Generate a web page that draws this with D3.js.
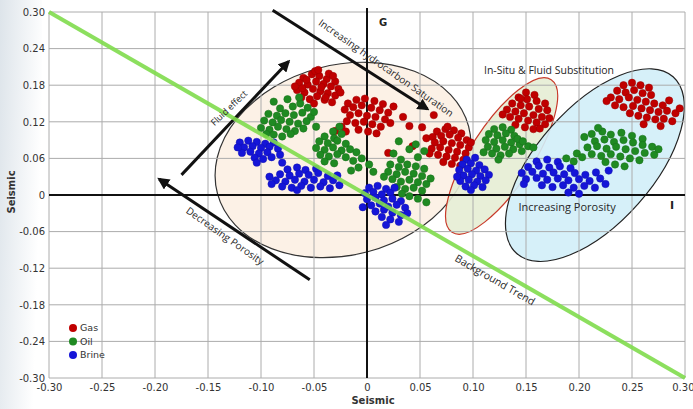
<!DOCTYPE html>
<html lang="en">
<head>
<meta charset="UTF-8">
<title>Seismic crossplot</title>
<script src="https://d3js.org/d3.v7.min.js"></script>
<style>
  body { margin: 0; background: #fff; }
  svg text { font-family: "DejaVu Sans", sans-serif; }
  .grid line { stroke: #acacac; stroke-width: 1; }
  .axis path, .axis line { display: none; }
  .axis text { font-size: 10px; fill: #333; font-family: "DejaVu Sans", sans-serif; }
  .note { font-family: "Open Sans", sans-serif; fill: #262626; }
</style>
</head>
<body>
<div id="chart"></div>
<script>
const xTicks = [-0.30, -0.25, -0.20, -0.15, -0.10, -0.05, 0, 0.05, 0.10, 0.15, 0.20, 0.25, 0.30];
const yTicks = [-0.30, -0.24, -0.18, -0.12, -0.06, 0, 0.06, 0.12, 0.18, 0.24, 0.30];

const gasPoints = [
  // cluster near (-0.05, 0.18)
  [-0.060,0.192],[-0.052,0.198],[-0.045,0.195],[-0.038,0.190],[-0.030,0.186],[-0.064,0.184],[-0.056,0.181],
  [-0.048,0.186],[-0.041,0.182],[-0.034,0.178],[-0.027,0.174],[-0.066,0.172],[-0.059,0.168],[-0.051,0.174],
  [-0.044,0.170],[-0.037,0.167],[-0.030,0.163],[-0.062,0.160],[-0.054,0.157],[-0.047,0.162],[-0.040,0.156],
  [-0.033,0.152],[-0.049,0.203],[-0.036,0.199],[-0.068,0.178],[-0.043,0.177],[-0.057,0.189],[-0.025,0.168],
  [-0.050,0.150],[-0.039,0.160],[-0.046,0.205],[-0.061,0.175],[-0.032,0.195],
  // cluster near (0.00, 0.13)
  [-0.018,0.150],[-0.010,0.156],[-0.002,0.158],[0.007,0.154],[0.015,0.149],[-0.021,0.140],[-0.013,0.144],
  [-0.005,0.147],[0.004,0.143],[0.012,0.139],[0.020,0.135],[-0.016,0.131],[-0.008,0.134],[0.000,0.130],
  [0.008,0.128],[0.017,0.124],[-0.019,0.121],[-0.011,0.118],[-0.003,0.120],[0.005,0.116],[0.013,0.112],
  [-0.008,0.107],[0.001,0.104],[0.009,0.101],[0.022,0.118],[-0.024,0.112],[-0.030,0.105],[-0.020,0.104],
  [0.025,0.145],[0.034,0.128],
  [0.040,0.113],[0.052,0.111],[0.063,0.131],[0.020,0.069],[0.056,0.093],[0.043,0.080],
  // cluster near (0.08, 0.08)
  [0.066,0.104],[0.074,0.108],[0.082,0.106],[0.089,0.101],[0.062,0.095],[0.070,0.097],[0.078,0.099],
  [0.086,0.094],[0.094,0.090],[0.064,0.086],[0.072,0.088],[0.080,0.085],[0.088,0.082],[0.096,0.078],
  [0.061,0.076],[0.069,0.078],[0.077,0.074],[0.085,0.071],[0.093,0.068],[0.067,0.066],[0.075,0.063],
  [0.083,0.061],[0.091,0.058],[0.072,0.054],[0.080,0.051],[0.088,0.048],[0.059,0.068],[0.098,0.086],[0.076,0.112],
  // cluster near (0.15, 0.14)
  [0.150,0.168],[0.158,0.164],[0.143,0.160],[0.151,0.157],[0.160,0.154],[0.168,0.150],[0.137,0.150],
  [0.145,0.147],[0.153,0.145],[0.162,0.141],[0.170,0.139],[0.132,0.140],[0.140,0.137],[0.148,0.134],
  [0.157,0.131],[0.165,0.128],[0.135,0.128],[0.143,0.125],[0.152,0.122],[0.160,0.119],[0.168,0.116],
  [0.140,0.115],[0.149,0.111],[0.157,0.108],[0.128,0.132],[0.172,0.126],[0.145,0.158],[0.163,0.109],
  // cluster near (0.26, 0.15)
  [0.242,0.180],[0.250,0.184],[0.258,0.180],[0.266,0.176],[0.236,0.171],[0.244,0.168],[0.252,0.172],
  [0.260,0.167],[0.268,0.164],[0.230,0.160],[0.238,0.157],[0.247,0.160],[0.255,0.156],[0.263,0.153],
  [0.271,0.150],[0.279,0.147],[0.234,0.147],[0.242,0.144],[0.251,0.146],[0.259,0.142],[0.267,0.139],
  [0.275,0.136],[0.283,0.138],[0.291,0.134],[0.248,0.134],[0.256,0.130],[0.264,0.127],[0.272,0.124],
  [0.280,0.125],[0.288,0.121],[0.261,0.116],[0.277,0.113],[0.226,0.154],[0.295,0.142],[0.285,0.155]
];

const oilPoints = [
  [-0.088,0.153],[-0.075,0.157],[-0.063,0.150],[-0.070,0.145],[-0.082,0.142],[-0.056,0.143],[-0.093,0.133],
  [-0.085,0.130],[-0.077,0.134],[-0.069,0.131],[-0.061,0.135],[-0.053,0.128],[-0.097,0.122],[-0.089,0.119],
  [-0.081,0.123],[-0.073,0.120],[-0.065,0.117],[-0.057,0.121],[-0.100,0.110],[-0.092,0.107],[-0.084,0.112],
  [-0.076,0.108],[-0.068,0.105],[-0.060,0.109],[-0.088,0.099],[-0.080,0.096],[-0.072,0.100],[-0.095,0.100],
  [-0.050,0.136],[-0.064,0.160],[-0.048,0.112],
  [-0.032,0.104],[-0.024,0.100],[-0.040,0.096],[-0.031,0.093],[-0.045,0.088],[-0.037,0.085],[-0.028,0.089],
  [-0.020,0.084],[-0.048,0.077],[-0.040,0.074],[-0.032,0.078],[-0.024,0.073],[-0.044,0.066],[-0.036,0.063],
  [-0.028,0.067],[-0.020,0.062],[-0.040,0.055],[-0.031,0.052],[-0.016,0.075],[-0.010,0.070],[-0.013,0.056],
  [-0.005,0.060],[-0.008,0.045],[0.002,0.050],[-0.015,0.040],[0.006,0.038],[-0.026,0.112],
  [0.030,0.088],[0.046,0.083],[0.040,0.075],[0.054,0.072],[0.025,0.068],[0.048,0.062],[0.032,0.058],
  [0.022,0.050],[0.030,0.046],[0.038,0.050],[0.046,0.047],[0.054,0.043],[0.020,0.038],[0.028,0.034],
  [0.036,0.038],[0.044,0.035],[0.052,0.031],[0.024,0.026],[0.032,0.022],[0.040,0.025],[0.048,0.021],
  [0.056,0.018],[0.028,0.013],[0.036,0.010],[0.044,0.012],[0.052,0.007],[0.040,-0.002],[0.048,-0.006],
  [0.056,-0.012],[0.033,0.002],[0.060,0.027],[0.016,0.030],
  [0.120,0.108],[0.128,0.111],[0.136,0.107],[0.115,0.100],[0.123,0.098],[0.131,0.101],[0.139,0.097],
  [0.112,0.090],[0.120,0.087],[0.128,0.090],[0.136,0.086],[0.144,0.083],[0.152,0.080],[0.114,0.079],
  [0.122,0.076],[0.130,0.079],[0.138,0.075],[0.146,0.072],[0.118,0.068],[0.126,0.065],[0.134,0.068],
  [0.110,0.070],[0.157,0.078],[0.142,0.092],[0.124,0.058],[0.147,0.088],
  [0.205,0.095],[0.212,0.100],[0.222,0.104],[0.230,0.099],[0.240,0.102],[0.250,0.097],[0.260,0.092],
  [0.215,0.088],[0.224,0.091],[0.233,0.087],[0.242,0.090],[0.251,0.086],[0.260,0.082],[0.269,0.079],
  [0.208,0.078],[0.217,0.080],[0.226,0.076],[0.235,0.079],[0.244,0.075],[0.253,0.072],[0.262,0.069],
  [0.271,0.066],[0.198,0.068],[0.212,0.067],[0.221,0.064],[0.230,0.067],[0.239,0.063],[0.248,0.060],
  [0.257,0.057],[0.188,0.060],[0.195,0.055],[0.225,0.054],[0.234,0.050],[0.243,0.047],[0.218,0.110],
  [0.275,0.075],[0.203,0.062]
];

const brinePoints = [
  [-0.120,0.086],[-0.112,0.089],[-0.104,0.087],[-0.096,0.084],[-0.088,0.086],[-0.116,0.078],[-0.108,0.080],
  [-0.100,0.077],[-0.092,0.079],[-0.084,0.076],[-0.118,0.069],[-0.110,0.071],[-0.102,0.068],[-0.094,0.070],
  [-0.106,0.061],[-0.098,0.059],[-0.090,0.062],[-0.082,0.066],[-0.080,0.053],[-0.104,0.053],[-0.122,0.078],
  [-0.075,0.042],[-0.066,0.045],[-0.058,0.041],[-0.048,0.043],[-0.082,0.034],[-0.073,0.032],[-0.064,0.035],
  [-0.055,0.033],[-0.046,0.036],[-0.037,0.031],[-0.086,0.024],[-0.077,0.022],[-0.068,0.025],[-0.059,0.022],
  [-0.050,0.025],[-0.041,0.021],[-0.032,0.024],[-0.080,0.014],[-0.071,0.012],[-0.062,0.015],[-0.053,0.012],
  [-0.044,0.014],[-0.035,0.011],[-0.026,0.016],[-0.090,0.018],[-0.092,0.030],[-0.028,0.032],[-0.066,0.008],
  [0.002,0.012],[0.010,0.015],[0.018,0.010],[-0.002,0.003],[0.006,0.005],[0.014,0.001],[0.022,0.004],
  [0.000,-0.007],[0.008,-0.004],[0.016,-0.009],[0.024,-0.006],[0.032,-0.010],[0.004,-0.017],[0.012,-0.014],
  [0.020,-0.019],[0.028,-0.016],[0.036,-0.021],[0.008,-0.027],[0.016,-0.024],[0.024,-0.029],[0.032,-0.033],
  [0.014,-0.036],[0.022,-0.040],[0.030,-0.044],[0.018,-0.049],[0.038,-0.030],[-0.004,-0.020],[0.026,0.012],
  [0.094,0.058],[0.102,0.061],[0.090,0.050],[0.098,0.052],[0.106,0.049],[0.087,0.041],[0.095,0.043],
  [0.103,0.040],[0.111,0.042],[0.091,0.032],[0.099,0.034],[0.107,0.031],[0.115,0.033],[0.088,0.023],
  [0.096,0.025],[0.104,0.022],[0.112,0.024],[0.093,0.014],[0.101,0.016],[0.109,0.013],[0.085,0.030],[0.098,0.008],
  [0.160,0.055],[0.170,0.058],[0.180,0.054],[0.152,0.046],[0.162,0.048],[0.172,0.045],[0.182,0.047],
  [0.192,0.044],[0.146,0.036],[0.156,0.038],[0.166,0.035],[0.176,0.037],[0.186,0.034],[0.196,0.036],
  [0.206,0.033],[0.216,0.037],[0.150,0.026],[0.160,0.028],[0.170,0.025],[0.180,0.027],[0.190,0.024],
  [0.200,0.026],[0.210,0.023],[0.220,0.027],[0.165,0.016],[0.175,0.013],[0.185,0.016],[0.195,0.012],
  [0.205,0.015],[0.215,0.012],[0.225,0.018],[0.190,0.004],[0.200,0.002],[0.228,0.040],[0.148,0.018]
];

const fluids = ["Gas", "Oil", "Brine"];
const fluidColors = ["#c00000", "#1f8a22", "#1515d8"];

const W = 693, H = 409;
const x = d3.scaleLinear().domain([-0.30, 0.30]).range([49, 685]);
const y = d3.scaleLinear().domain([-0.30, 0.30]).range([378, 12]);
const color = d3.scaleOrdinal().domain(fluids).range(fluidColors);
const fmt = d => d === 0 ? "0" : d.toFixed(2);

const svg = d3.select("#chart").append("svg")
  .attr("width", W).attr("height", H);

// faint slide background on the left edge
const defs = svg.append("defs");
const grad = defs.append("linearGradient").attr("id", "edge").attr("x1", 0).attr("x2", 1).attr("y1", 0).attr("y2", 0.3);
grad.append("stop").attr("offset", 0).attr("stop-color", "#dde4ea");
grad.append("stop").attr("offset", 1).attr("stop-color", "#ffffff");
svg.append("rect").attr("width", W).attr("height", H).attr("fill", "#fff");
svg.append("rect").attr("width", 42).attr("height", H).attr("fill", "url(#edge)");

defs.append("marker")
  .attr("id", "head").attr("viewBox", "0 0 10 10")
  .attr("refX", 8).attr("refY", 5)
  .attr("markerWidth", 4).attr("markerHeight", 4)
  .attr("orient", "auto")
  .append("path").attr("d", "M0,0L10,5L0,10z").attr("fill", "#111");

// zones
const zones = [
  {cx: -0.0226, cy: 0.0574, rx: 130, ry: 95, rot: -15, fill: "#fcefe3", stroke: "#333"},
  {cx: 0.127, cy: 0.064, rx: 91, ry: 31, rot: -57, fill: "#e6edd4", stroke: "#c83a2a"},
  {cx: 0.215, cy: 0.049, rx: 118, ry: 58, rot: -48.5, fill: "#d1eef8", stroke: "#222"}
];
svg.append("g").selectAll("ellipse").data(zones).join("ellipse")
  .attr("transform", d => `translate(${x(d.cx)},${y(d.cy)}) rotate(${d.rot})`)
  .attr("rx", d => d.rx).attr("ry", d => d.ry)
  .attr("fill", d => d.fill).attr("fill-opacity", 0.9)
  .attr("stroke", d => d.stroke).attr("stroke-width", 1.2);

// grid
const grid = svg.append("g").attr("class", "grid");
grid.selectAll(".gx").data(xTicks).join("line").attr("class", "gx")
  .attr("x1", d => x(d)).attr("x2", d => x(d)).attr("y1", y(0.30)).attr("y2", y(-0.30));
grid.selectAll(".gy").data(yTicks).join("line").attr("class", "gy")
  .attr("y1", d => y(d)).attr("y2", d => y(d)).attr("x1", x(-0.30)).attr("x2", x(0.30));

// tick labels
const xAxis = svg.append("g").attr("class", "axis")
  .attr("transform", `translate(0,${y(-0.30)})`)
  .call(d3.axisBottom(x).tickValues(xTicks).tickFormat(fmt).tickSize(0).tickPadding(6));
// the last label sits at the right edge of the page
xAxis.selectAll(".tick text").filter(d => d === 0.30).attr("text-anchor", "end").attr("dx", "0.9em");
svg.append("g").attr("class", "axis")
  .attr("transform", `translate(${x(-0.30)},0)`)
  .call(d3.axisLeft(y).tickValues(yTicks).tickFormat(fmt).tickSize(0).tickPadding(4));

// zero axes
svg.append("line").attr("x1", x(-0.30)).attr("x2", x(0.30)).attr("y1", y(0)).attr("y2", y(0))
  .attr("stroke", "#111").attr("stroke-width", 2);
svg.append("line").attr("x1", x(0)).attr("x2", x(0)).attr("y1", 8).attr("y2", y(-0.30))
  .attr("stroke", "#111").attr("stroke-width", 2);

// arrows
const arrows = [
  [[-0.089, 0.303], [0.057, 0.141]],
  [[-0.175, 0.033], [-0.074, 0.219]],
  [[-0.054, -0.139], [-0.196, 0.026]]
];
svg.append("g").selectAll("line").data(arrows).join("line")
  .attr("x1", d => x(d[0][0])).attr("y1", d => y(d[0][1]))
  .attr("x2", d => x(d[1][0])).attr("y2", d => y(d[1][1]))
  .attr("stroke", "#111").attr("stroke-width", 3)
  .attr("marker-end", "url(#head)");

// points
const all = [
  ...gasPoints.map(p => ({x: p[0], y: p[1], f: "Gas"})),
  ...oilPoints.map(p => ({x: p[0], y: p[1], f: "Oil"})),
  ...brinePoints.map(p => ({x: p[0], y: p[1], f: "Brine"}))
];
svg.append("g").selectAll("circle").data(all).join("circle")
  .attr("cx", d => x(d.x)).attr("cy", d => y(d.y)).attr("r", 3.7)
  .attr("fill", d => color(d.f))
  .attr("stroke", d => d3.color(color(d.f)).darker(0.6)).attr("stroke-width", 0.5);

// background trend, drawn over the points
svg.append("line").attr("x1", x(-0.30)).attr("y1", y(0.30)).attr("x2", x(0.30)).attr("y2", y(-0.30))
  .attr("stroke", "#7fdc4c").attr("stroke-width", 4).attr("stroke-opacity", 0.9);

// annotations
const notes = [
  {t: "Increasing hydrocarbon Saturation", px: 386, py: 68, a: 35, s: 10},
  {t: "Fluid effect", px: 229, py: 108, a: -44, s: 9},
  {t: "Decreasing Porosity", px: 225, py: 236, a: 35, s: 10},
  {t: "Background Trend", px: 495, py: 280, a: 30, s: 10.5},
  {t: "In-Situ & Fluid Substitution", px: 549, py: 70, a: 0, s: 10.5},
  {t: "Increasing Porosity", px: 567, py: 207, a: 0, s: 11}
];
svg.append("g").selectAll("text").data(notes).join("text")
  .attr("class", "note")
  .attr("transform", d => `translate(${d.px},${d.py}) rotate(${d.a})`)
  .attr("text-anchor", "middle").attr("dy", "0.35em")
  .style("font-size", d => d.s + "px")
  .text(d => d.t);

svg.append("text").attr("x", 383).attr("y", 26).attr("text-anchor", "middle")
  .style("font-size", "10px").style("font-weight", "bold").attr("fill", "#222").text("G");
svg.append("text").attr("x", 672).attr("y", 209).attr("text-anchor", "middle")
  .style("font-size", "11px").style("font-weight", "bold").attr("fill", "#222").text("I");

// axis titles
svg.append("text").attr("x", 373).attr("y", 404).attr("text-anchor", "middle")
  .style("font-size", "10px").style("font-weight", "bold").attr("fill", "#333").text("Seismic");
svg.append("text").attr("transform", "translate(15,192) rotate(-90)").attr("text-anchor", "middle")
  .style("font-size", "10px").style("font-weight", "bold").attr("fill", "#333").text("Seismic");

// legend
const legend = svg.append("g").attr("transform", "translate(73,328)");
const li = legend.selectAll("g").data(fluids).join("g")
  .attr("transform", (d, i) => `translate(0,${i * 13.5})`);
li.append("circle").attr("r", 4).attr("fill", d => color(d));
li.append("text").attr("x", 7).attr("dy", "0.35em")
  .style("font-size", "9.5px").attr("fill", "#333").text(d => d);
</script>
</body>
</html>
